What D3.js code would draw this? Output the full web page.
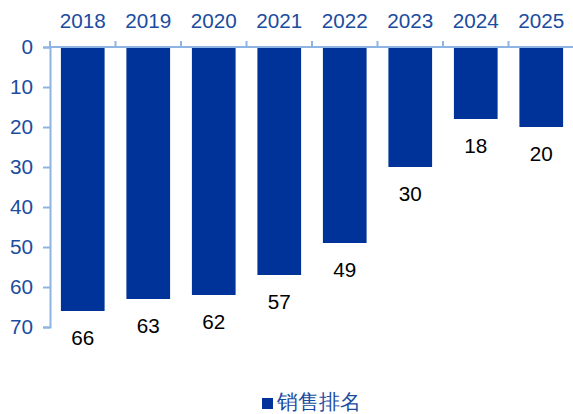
<!DOCTYPE html>
<html>
<head>
<meta charset="utf-8">
<script src="https://cdn.jsdelivr.net/npm/d3@7"></script>
<style>
  html, body { margin: 0; padding: 0; background: #fff; }
  svg { display: block; }
  text { font-family: "Liberation Sans", Arial, sans-serif; }
</style>
</head>
<body>
<svg id="chart" width="573" height="414"></svg>
<script>
// Sales ranking by year (lower rank = better, axis runs downward)
const years = ["2018", "2019", "2020", "2021", "2022", "2023", "2024", "2025"];
const ranks = [66, 63, 62, 57, 49, 30, 18, 20];
const rankTicks = [0, 10, 20, 30, 40, 50, 60, 70];
const seriesName = "销售排名";

const barColor = "#003399";
const axisColor = "#8db4e2";
const labelBlue = "#1a4ca0";
const fontSize = 20.7;

const svg = d3.select("#chart");
const plotLeft = 50, plotRight = 574, plotTop = 47, plotBottom = 327;

const x = d3.scaleBand().domain(years).range([plotLeft, plotRight]).paddingInner(0.333).paddingOuter(0.1665);
const xEdges = d3.scaleBand().domain(years).range([plotLeft, plotRight]).padding(0);
const y = d3.scaleLinear().domain([0, 70]).range([plotTop, plotBottom]);

// Bars hanging from the top axis
svg.append("g").selectAll("rect")
  .data(years)
  .join("rect")
  .attr("x", d => x(d))
  .attr("y", y(0))
  .attr("width", x.bandwidth())
  .attr("height", (d, i) => y(ranks[i]) - y(0))
  .attr("fill", barColor);

// Value labels beneath each bar
svg.append("g").selectAll("text")
  .data(years)
  .join("text")
  .attr("x", d => x(d) + x.bandwidth() / 2)
  .attr("y", (d, i) => y(ranks[i]) + 33.5)
  .attr("text-anchor", "middle")
  .attr("font-size", fontSize)
  .attr("fill", "#000")
  .text((d, i) => ranks[i]);

// Top category axis, ticks on band boundaries
const gx = svg.append("g");
gx.append("line")
  .attr("x1", plotLeft).attr("x2", 573)
  .attr("y1", plotTop).attr("y2", plotTop)
  .attr("stroke", axisColor).attr("stroke-width", 2);
gx.selectAll("line.tick")
  .data(years)
  .join("line")
  .attr("class", "tick")
  .attr("x1", d => xEdges(d)).attr("x2", d => xEdges(d))
  .attr("y1", plotTop).attr("y2", plotTop - 6)
  .attr("stroke", axisColor).attr("stroke-width", 2);
gx.selectAll("text")
  .data(years)
  .join("text")
  .attr("x", d => x(d) + x.bandwidth() / 2)
  .attr("y", 28)
  .attr("text-anchor", "middle")
  .attr("font-size", fontSize)
  .attr("fill", labelBlue)
  .text(d => d);

// Left value axis (reversed)
const yAxis = d3.axisLeft(y).tickValues(rankTicks).tickSize(7).tickPadding(10).tickFormat(d3.format("d"));
const gy = svg.append("g").attr("transform", `translate(${plotLeft},0)`).call(yAxis);
gy.select(".domain").attr("stroke", axisColor).attr("stroke-width", 2);
gy.selectAll(".tick line").attr("stroke", axisColor).attr("stroke-width", 2);
gy.selectAll(".tick text")
  .attr("font-size", fontSize)
  .attr("font-family", "\"Liberation Sans\", Arial, sans-serif")
  .attr("fill", labelBlue);

// Legend
const legend = svg.append("g").attr("transform", "translate(262,398)");
legend.append("rect").attr("width", 11).attr("height", 11).attr("fill", barColor);
legend.append("text")
  .attr("x", 15).attr("y", 11)
  .attr("font-size", fontSize)
  .attr("font-family", "\"Noto Sans CJK SC\", sans-serif")
  .attr("fill", labelBlue)
  .text(seriesName);
</script>
</body>
</html>
